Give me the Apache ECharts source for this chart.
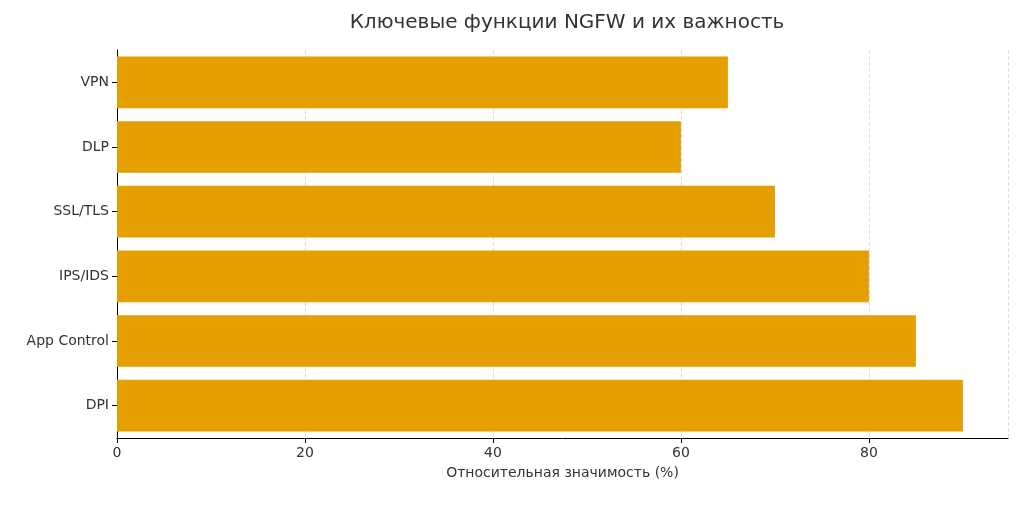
<!DOCTYPE html>
<html><head><meta charset="utf-8">
<script src="https://cdn.jsdelivr.net/npm/echarts@6/dist/echarts.min.js"></script>
<style>html,body{margin:0;padding:0;background:#fff}#c{width:1024px;height:511px}</style>
</head><body><div id="c"></div>
<script>
const categories = ['DPI','App Control','IPS/IDS','SSL/TLS','DLP','VPN'];
const values = [90, 85, 80, 70, 60, 65];
const xTicks = [0, 20, 40, 60, 80];
const chart = echarts.init(document.getElementById('c'));
const font = 'DejaVu Sans';
chart.setOption({
  animation:false,
  title:{text:'Ключевые функции NGFW и их важность',left:562,top:8,textAlign:'center',
    textStyle:{fontFamily:font,fontSize:20,fontWeight:'normal',color:'#333'}},
  grid:{left:117,right:16,top:50,bottom:73},
  xAxis:{type:'value',min:0,max:94.8,interval:20,
    name:'Относительная значимость (%)',nameLocation:'middle',nameGap:28,
    nameTextStyle:{fontFamily:font,fontSize:14,color:'#333'},
    axisLine:{show:true,lineStyle:{color:'#000'}},axisTick:{show:true,lineStyle:{color:'#000'}},
    axisLabel:{fontFamily:font,fontSize:14,color:'#333',showMaxLabel:false},
    splitLine:{show:true,lineStyle:{type:'dashed',color:'#ddd'}}},
  yAxis:{type:'category',data:categories,
    axisLine:{show:true,lineStyle:{color:'#000'}},axisTick:{show:true,alignWithLabel:true,lineStyle:{color:'#000'}},
    axisLabel:{fontFamily:font,fontSize:14,color:'#333'},splitLine:{show:false}},
  series:[{type:'bar',data:values,barWidth:'80%',itemStyle:{color:'#E69F00'}}]
});
</script></body></html>
